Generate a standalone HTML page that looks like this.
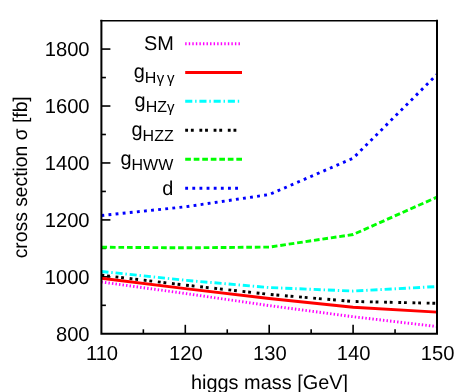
<!DOCTYPE html>
<html><head><meta charset="utf-8"><title>plot</title>
<style>
html,body{margin:0;padding:0;background:#fff;}
body{width:469px;height:392px;overflow:hidden;}
svg{display:block;will-change:transform;}
text{font-family:"Liberation Sans",sans-serif;fill:#000;text-rendering:geometricPrecision;}
</style></head><body>
<svg width="469" height="392" viewBox="0 0 469 392">
<rect x="0" y="0" width="469" height="392" fill="#ffffff"/>
<g stroke="#000" stroke-width="1.6" fill="none" stroke-linecap="butt">
<path d="M101.40,305.33h4.5"/>
<path d="M101.40,276.85h9"/>
<path d="M101.40,248.38h4.5"/>
<path d="M101.40,219.91h9"/>
<path d="M101.40,191.44h4.5"/>
<path d="M101.40,162.96h9"/>
<path d="M101.40,134.49h4.5"/>
<path d="M101.40,106.02h9"/>
<path d="M101.40,77.55h4.5"/>
<path d="M101.40,49.07h9"/>
<path d="M143.35,333.80v-4.5"/>
<path d="M185.30,333.80v-9"/>
<path d="M227.25,333.80v-4.5"/>
<path d="M269.20,333.80v-9"/>
<path d="M311.15,333.80v-4.5"/>
<path d="M353.10,333.80v-9"/>
<path d="M395.05,333.80v-4.5"/>
</g>
<text transform="translate(89.60,340.60) scale(1,1.0)" font-size="20.2" text-anchor="end" >800</text>
<text transform="translate(89.60,283.65) scale(1,1.0)" font-size="20.2" text-anchor="end" >1000</text>
<text transform="translate(89.60,226.71) scale(1,1.0)" font-size="20.2" text-anchor="end" >1200</text>
<text transform="translate(89.60,169.76) scale(1,1.0)" font-size="20.2" text-anchor="end" >1400</text>
<text transform="translate(89.60,112.82) scale(1,1.0)" font-size="20.2" text-anchor="end" >1600</text>
<text transform="translate(89.60,55.87) scale(1,1.0)" font-size="20.2" text-anchor="end" >1800</text>
<text transform="translate(102.00,360.00) scale(1,1.0)" font-size="20.2" text-anchor="middle" >110</text>
<text transform="translate(185.90,360.00) scale(1,1.0)" font-size="20.2" text-anchor="middle" >120</text>
<text transform="translate(269.80,360.00) scale(1,1.0)" font-size="20.2" text-anchor="middle" >130</text>
<text transform="translate(353.70,360.00) scale(1,1.0)" font-size="20.2" text-anchor="middle" >140</text>
<text transform="translate(437.60,360.00) scale(1,1.0)" font-size="20.2" text-anchor="middle" >150</text>
<text transform="translate(269.50,388.60) scale(1,1.0)" font-size="19.9" text-anchor="middle" >higgs mass [GeV]</text>
<text transform="translate(27.0,177.3) rotate(-90) scale(0.97,1)" font-size="19.9" text-anchor="middle">cross section σ [fb]</text>
<polyline points="101.40,281.98 185.30,293.48 269.20,305.61 353.10,316.72 437.00,326.54" fill="none" stroke="#ff00ff" stroke-width="2.9" stroke-linejoin="miter" stroke-dasharray="1.421,2.131"/>
<path d="M185.2,43.7H242.0" fill="none" stroke="#ff00ff" stroke-width="2.9" stroke-dasharray="1.421,2.131"/>
<polyline points="101.40,278.28 185.30,288.67 269.20,298.49 353.10,307.18 437.00,312.16" fill="none" stroke="#ff0000" stroke-width="2.9" stroke-linejoin="miter"/>
<path d="M185.2,72.5H242.0" fill="none" stroke="#ff0000" stroke-width="2.9"/>
<polyline points="101.40,271.44 185.30,280.27 269.20,287.53 353.10,291.09 437.00,286.54" fill="none" stroke="#00ffff" stroke-width="2.9" stroke-linejoin="miter" stroke-dasharray="7.103,2.841,1.421,2.841"/>
<path d="M185.2,101.3H242.0" fill="none" stroke="#00ffff" stroke-width="2.9" stroke-dasharray="7.103,2.841,1.421,2.841"/>
<polyline points="101.40,275.15 185.30,285.11 269.20,294.37 353.10,301.48 437.00,303.33" fill="none" stroke="#000000" stroke-width="2.9" stroke-linejoin="miter" stroke-dasharray="2.841,2.841,2.841,5.682"/>
<path d="M185.2,130.3H242.0" fill="none" stroke="#000000" stroke-width="2.9" stroke-dasharray="2.841,2.841,2.841,5.682"/>
<polyline points="101.40,247.24 185.30,247.81 269.20,247.10 353.10,234.52 437.00,197.13" fill="none" stroke="#00ff00" stroke-width="2.9" stroke-linejoin="miter" stroke-dasharray="5.682,2.841"/>
<path d="M185.2,159.2H242.0" fill="none" stroke="#00ff00" stroke-width="2.9" stroke-dasharray="5.682,2.841"/>
<polyline points="101.40,215.50 185.30,206.81 269.20,194.57 353.10,158.21 437.00,74.41" fill="none" stroke="#0000ff" stroke-width="2.9" stroke-linejoin="miter" stroke-dasharray="2.853,4.279"/>
<path d="M185.2,188.3H242.0" fill="none" stroke="#0000ff" stroke-width="2.9" stroke-dasharray="2.853,4.279"/>
<text transform="translate(173.80,50.20) scale(1,1.0)" font-size="19.9" text-anchor="end" >SM</text>
<text transform="translate(174.40,77.70) scale(1,1.0)" font-size="19.9" text-anchor="end" >g<tspan font-size="16.0" dy="5.4">H<tspan font-size="15" dx="0.5">γ</tspan><tspan font-size="15" dx="2.6">γ</tspan></tspan></text>
<text transform="translate(174.50,106.60) scale(1,1.0)" font-size="19.9" text-anchor="end" >g<tspan font-size="16.0" dy="5.4">HZ<tspan font-size="15">γ</tspan></tspan></text>
<text transform="translate(173.70,135.70) scale(1,1.0)" font-size="19.9" text-anchor="end" >g<tspan font-size="16.0" dy="5.4">HZZ</tspan></text>
<text transform="translate(173.30,164.60) scale(1,1.0)" font-size="19.9" text-anchor="end" >g<tspan font-size="16.0" dy="5.4">HWW</tspan></text>
<text transform="translate(173.30,195.10) scale(1,1.0)" font-size="19.9" text-anchor="end" >d</text>
<path d="M101.4,19.85V334.80M437.0,19.85V334.80M101.4,333.8H437.0" fill="none" stroke="#000" stroke-width="2.0"/>
<path d="M100.40,20.70H438.00" fill="none" stroke="#000" stroke-width="1.5"/>
</svg></body></html>
